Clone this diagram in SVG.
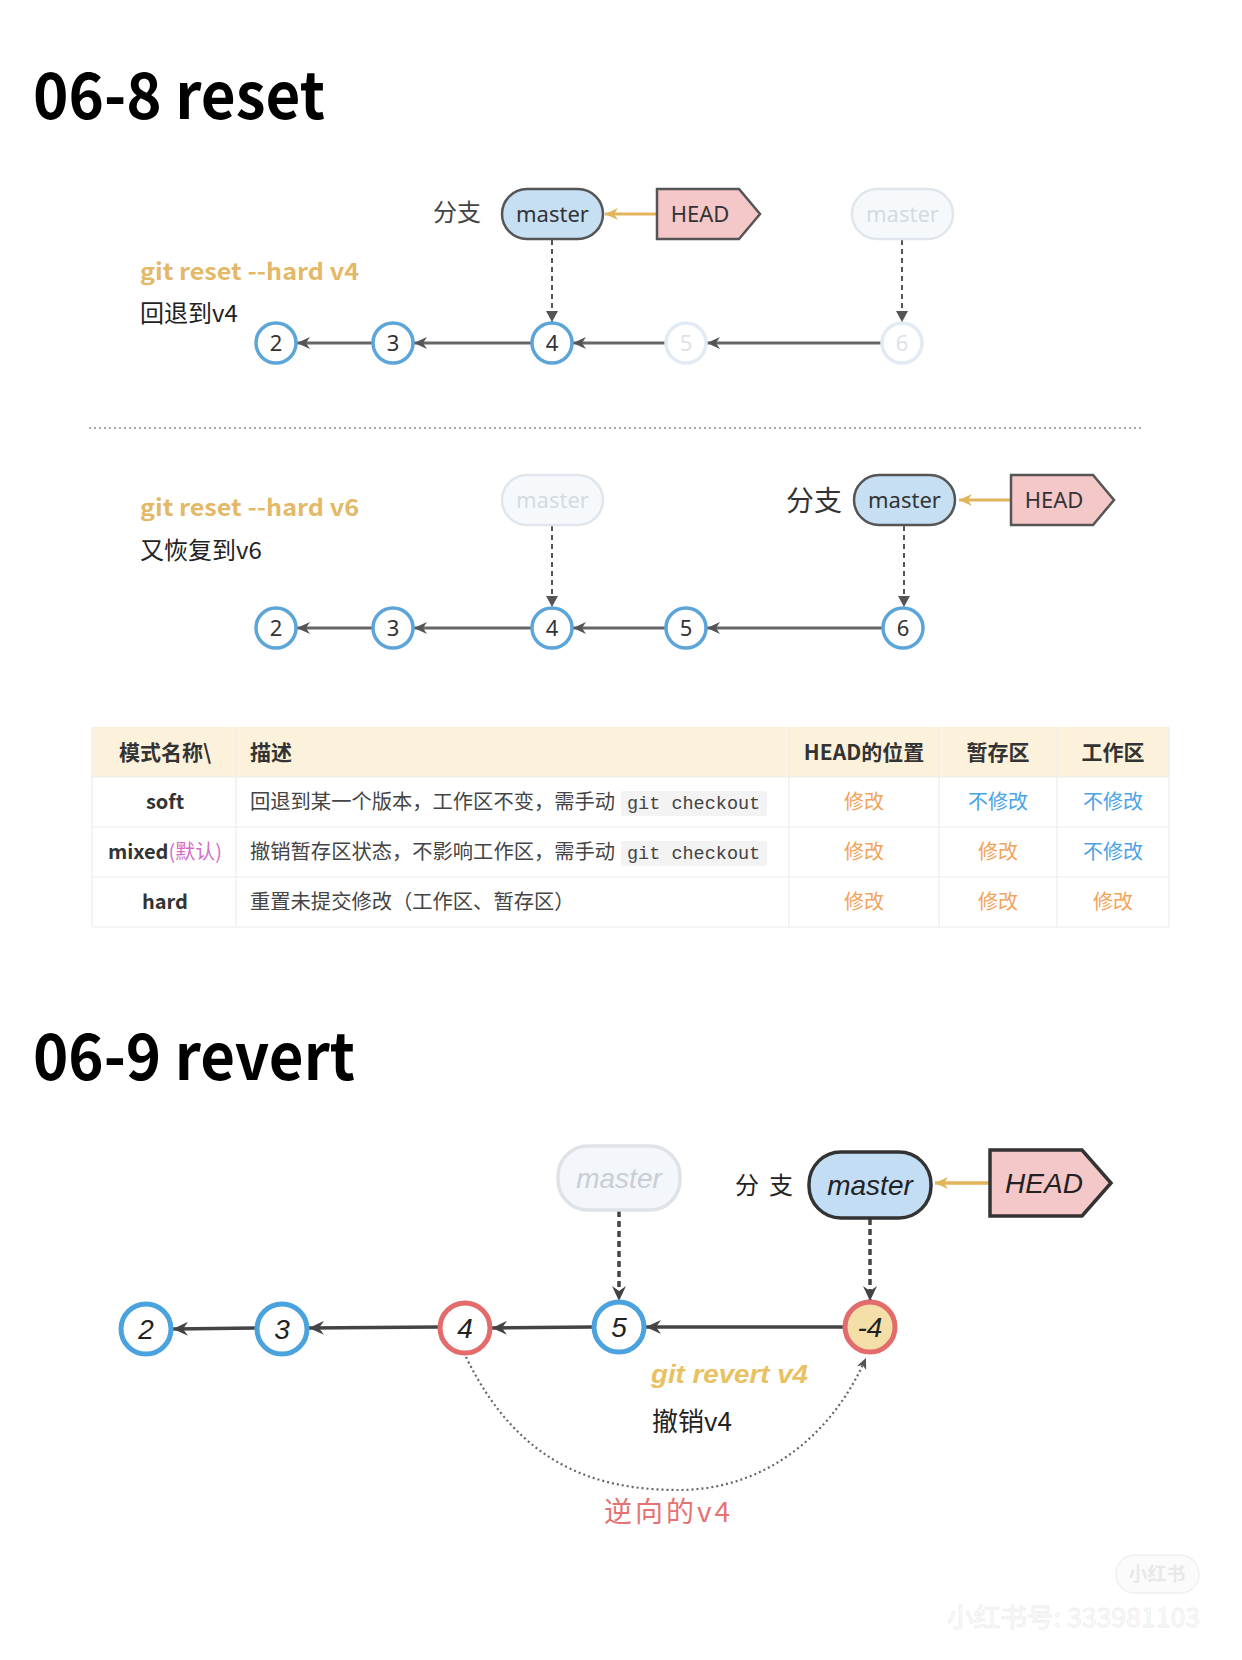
<svg xmlns="http://www.w3.org/2000/svg" width="1242" height="1660" viewBox="0 0 1242 1660">
<style>
.title{font-family:"Noto Sans CJK SC","Noto Sans",sans-serif;font-weight:700;font-size:64px;fill:#000}
.cjk{font-family:"Noto Sans CJK SC","Noto Sans",sans-serif}
.cmd{font-family:"Noto Sans CJK SC","Noto Sans",sans-serif;font-weight:700;font-size:23px;fill:#e3b867}
.note{font-family:"Noto Sans CJK SC",sans-serif;font-size:24px;fill:#222}
.pill{fill:#c6dff3;stroke:#555;stroke-width:2.5}
.pillF{fill:#f6f9fc;stroke:#e1e6ec;stroke-width:2.5}
.head{fill:#f4c7c9;stroke:#555;stroke-width:2.5}
.nlab{font-family:"Noto Sans",sans-serif;font-size:22px;fill:#333;text-anchor:middle}
.nlabF{font-family:"Noto Sans",sans-serif;font-size:22px;fill:#d4dae2;text-anchor:middle}
.c{fill:#fff;stroke:#5ba5d9;stroke-width:3.5}
.cF{fill:#fff;stroke:#e2ebf4;stroke-width:3.5}
.clab{font-family:"Noto Sans",sans-serif;font-size:22px;fill:#333;text-anchor:middle}
.clabF{font-family:"Noto Sans",sans-serif;font-size:22px;fill:#dde2e8;text-anchor:middle}
.edge{stroke:#666;stroke-width:3;fill:none}
.dash{stroke:#555;stroke-width:2;stroke-dasharray:5 4;fill:none}
.yel{stroke:#e2b55c;stroke-width:3;fill:none}
.th{font-family:"Noto Sans CJK SC",sans-serif;font-weight:700;font-size:21px;fill:#333}
.td{font-family:"Noto Sans CJK SC",sans-serif;font-size:20.3px;fill:#444}
.tb{font-family:"Noto Sans CJK SC",sans-serif;font-weight:700;font-size:20px;fill:#333;text-anchor:middle}
.code{font-family:"Liberation Mono",monospace;font-size:18.5px;fill:#444}
.codebg{fill:#f3f3f3}
.mod{font-family:"Noto Sans CJK SC",sans-serif;font-size:20px;fill:#f2a35a;text-anchor:middle}
.nomod{font-family:"Noto Sans CJK SC",sans-serif;font-size:20px;fill:#4aa3e6;text-anchor:middle}
.grid{stroke:#ececec;stroke-width:1.2}
.sk{font-family:"Liberation Sans",sans-serif;font-style:italic;font-size:28px;fill:#222;text-anchor:middle}
.skF{font-family:"Liberation Sans",sans-serif;font-style:italic;font-size:28px;fill:#c9ced6;text-anchor:middle}
.rc{fill:#fff;stroke-width:5}
.redge{stroke:#444;stroke-width:3.5;fill:none}
.rdash{stroke:#444;stroke-width:3.5;stroke-dasharray:6 4;fill:none}
</style>
<defs>
<marker id="aG" markerUnits="userSpaceOnUse" markerWidth="14" markerHeight="12" refX="13" refY="6" orient="auto">
<path d="M0,0 L13,6 L0,12 L4,6 z" fill="#555"/>
</marker>
<marker id="aD" markerUnits="userSpaceOnUse" markerWidth="12" markerHeight="12" refX="11" refY="6" orient="auto">
<path d="M0,0 L11,6 L0,12 z" fill="#555"/>
</marker>
<marker id="aY" markerUnits="userSpaceOnUse" markerWidth="14" markerHeight="12" refX="13" refY="6" orient="auto">
<path d="M0,0 L13,6 L0,12 L4,6 z" fill="#e2b55c"/>
</marker>
<marker id="aR" markerUnits="userSpaceOnUse" markerWidth="16" markerHeight="14" refX="15" refY="7" orient="auto">
<path d="M0,0 L15,7 L0,14 L5,7 z" fill="#444"/>
</marker>
<marker id="aC" markerUnits="userSpaceOnUse" markerWidth="12" markerHeight="10" refX="11" refY="5" orient="auto">
<path d="M0,0 L11,5 L0,10 L3,5 z" fill="#555"/>
</marker>
</defs>
<rect width="1242" height="1660" fill="#fff"/>

<text class="title" x="33" y="119" textLength="292" lengthAdjust="spacingAndGlyphs">06-8 reset</text>

<!-- Top reset diagram -->
<g id="top-labels">
<text class="cjk" x="433" y="221" font-size="24" fill="#444">分支</text>
<text class="cmd" x="140" y="280" textLength="219" lengthAdjust="spacingAndGlyphs">git reset --hard v4</text>
<text class="note" x="140" y="322">回退到v4</text>
</g>
<g id="connectors-top">
<line class="yel" x1="657" y1="214" x2="605" y2="214" marker-end="url(#aY)"/>
<line class="dash" x1="552" y1="240" x2="552" y2="322" marker-end="url(#aD)"/>
<line class="dash" x1="902" y1="240" x2="902" y2="322" marker-end="url(#aD)"/>
<line class="edge" x1="372" y1="343" x2="297" y2="343" marker-end="url(#aG)"/>
<line class="edge" x1="532" y1="343" x2="414" y2="343" marker-end="url(#aG)"/>
<line class="edge" x1="665" y1="343" x2="573" y2="343" marker-end="url(#aG)"/>
<line class="edge" x1="882" y1="343" x2="707" y2="343" marker-end="url(#aG)"/>
</g>
<g id="t-master">
<rect class="pill" x="502" y="189" width="101" height="50" rx="25"/>
<text class="nlab" x="552.5" y="222">master</text>
</g>
<g id="t-head">
<path class="head" d="M657,189 H739 L760,214 L739,239 H657 Z"/>
<text class="nlab" x="700" y="222" font-size="23">HEAD</text>
</g>
<g id="t-master-old">
<rect class="pillF" x="852" y="189" width="101" height="50" rx="25"/>
<text class="nlabF" x="902.5" y="222">master</text>
</g>
<g id="t-c2"><circle class="c" cx="276" cy="343" r="20"/><text class="clab" x="276" y="351">2</text></g>
<g id="t-c3"><circle class="c" cx="393" cy="343" r="20"/><text class="clab" x="393" y="351">3</text></g>
<g id="t-c4"><circle class="c" cx="552" cy="343" r="20"/><text class="clab" x="552" y="351">4</text></g>
<g id="t-c5"><circle class="cF" cx="686" cy="343" r="20"/><text class="clabF" x="686" y="351">5</text></g>
<g id="t-c6"><circle class="cF" cx="902" cy="343" r="20"/><text class="clabF" x="902" y="351">6</text></g>

<line x1="89" y1="428" x2="1141" y2="428" stroke="#aaa" stroke-width="2" stroke-dasharray="2 3"/>

<!-- Second reset diagram -->
<g id="mid-labels">
<text class="cmd" x="140" y="516" textLength="219" lengthAdjust="spacingAndGlyphs">git reset --hard v6</text>
<text class="note" x="140" y="559">又恢复到v6</text>
<text class="cjk" x="786" y="511" font-size="28" fill="#333">分支</text>
</g>
<g id="connectors-mid">
<line class="yel" x1="1011" y1="500" x2="959" y2="500" marker-end="url(#aY)"/>
<line class="dash" x1="552" y1="526" x2="552" y2="607" marker-end="url(#aD)"/>
<line class="dash" x1="904" y1="526" x2="904" y2="607" marker-end="url(#aD)"/>
<line class="edge" x1="372" y1="628" x2="297" y2="628" marker-end="url(#aG)"/>
<line class="edge" x1="532" y1="628" x2="414" y2="628" marker-end="url(#aG)"/>
<line class="edge" x1="665" y1="628" x2="573" y2="628" marker-end="url(#aG)"/>
<line class="edge" x1="882" y1="628" x2="707" y2="628" marker-end="url(#aG)"/>
</g>
<g id="m-master-old">
<rect class="pillF" x="502" y="475" width="101" height="50" rx="25"/>
<text class="nlabF" x="552.5" y="508">master</text>
</g>
<g id="m-master">
<rect class="pill" x="854" y="475" width="101" height="50" rx="25"/>
<text class="nlab" x="904.5" y="508">master</text>
</g>
<g id="m-head">
<path class="head" d="M1011,475 H1093 L1114,500 L1093,525 H1011 Z"/>
<text class="nlab" x="1054" y="508" font-size="23">HEAD</text>
</g>
<g id="m-c2"><circle class="c" cx="276" cy="628" r="20"/><text class="clab" x="276" y="636">2</text></g>
<g id="m-c3"><circle class="c" cx="393" cy="628" r="20"/><text class="clab" x="393" y="636">3</text></g>
<g id="m-c4"><circle class="c" cx="552" cy="628" r="20"/><text class="clab" x="552" y="636">4</text></g>
<g id="m-c5"><circle class="c" cx="686" cy="628" r="20"/><text class="clab" x="686" y="636">5</text></g>
<g id="m-c6"><circle class="c" cx="903" cy="628" r="20"/><text class="clab" x="903" y="636">6</text></g>

<!-- Table -->
<g id="table">
<rect x="92" y="727" width="1077" height="50" fill="#fcf2dc"/>
<line class="grid" x1="92" y1="777" x2="1169" y2="777"/>
<line class="grid" x1="92" y1="827" x2="1169" y2="827"/>
<line class="grid" x1="92" y1="877" x2="1169" y2="877"/>
<line class="grid" x1="92" y1="927" x2="1169" y2="927"/>
<line class="grid" x1="92" y1="727" x2="92" y2="927"/>
<line class="grid" x1="236" y1="727" x2="236" y2="927"/>
<line class="grid" x1="789" y1="727" x2="789" y2="927"/>
<line class="grid" x1="939" y1="727" x2="939" y2="927"/>
<line class="grid" x1="1057" y1="727" x2="1057" y2="927"/>
<line class="grid" x1="1169" y1="727" x2="1169" y2="927"/>
<text class="th" x="119" y="760">模式名称\</text>
<text class="th" x="250" y="760">描述</text>
<text class="th" x="864" y="760" text-anchor="middle">HEAD的位置</text>
<text class="th" x="998" y="760" text-anchor="middle">暂存区</text>
<text class="th" x="1113" y="760" text-anchor="middle">工作区</text>

<text class="tb" x="165" y="809">soft</text>
<text class="td" x="250" y="809">回退到某一个版本，工作区不变，需手动</text>
<rect class="codebg" x="621" y="791" width="146" height="25" rx="2"/>
<text class="code" x="627" y="809">git checkout</text>
<text class="mod" x="864" y="809">修改</text>
<text class="nomod" x="998" y="809">不修改</text>
<text class="nomod" x="1113" y="809">不修改</text>

<text class="tb" x="165" y="859"><tspan>mixed</tspan><tspan font-weight="400" fill="#d46fc4">(默认)</tspan></text>
<text class="td" x="250" y="859">撤销暂存区状态，不影响工作区，需手动</text>
<rect class="codebg" x="621" y="841" width="146" height="25" rx="2"/>
<text class="code" x="627" y="859">git checkout</text>
<text class="mod" x="864" y="859">修改</text>
<text class="mod" x="998" y="859">修改</text>
<text class="nomod" x="1113" y="859">不修改</text>

<text class="tb" x="165" y="909">hard</text>
<text class="td" x="250" y="909">重置未提交修改（工作区、暂存区）</text>
<text class="mod" x="864" y="909">修改</text>
<text class="mod" x="998" y="909">修改</text>
<text class="mod" x="1113" y="909">修改</text>
</g>

<text class="title" x="33" y="1080" textLength="322" lengthAdjust="spacingAndGlyphs">06-9 revert</text>

<!-- Revert diagram -->
<g id="rev-labels">
<text class="cjk" x="735" y="1194" font-size="24" fill="#222" letter-spacing="10">分支</text>
<text x="651" y="1383" font-family="Liberation Sans,sans-serif" font-style="italic" font-weight="700" font-size="26" fill="#e8c262" textLength="157" lengthAdjust="spacingAndGlyphs">git revert v4</text>
<text class="cjk" x="652" y="1431" font-size="26" fill="#222">撤销v4</text>
<text class="cjk" x="604" y="1522" font-size="28" fill="#e57373" letter-spacing="3">逆向的v4</text>
</g>
<g id="connectors-rev">
<line stroke="#e2b55c" stroke-width="3.5" x1="990" y1="1183" x2="935" y2="1183" marker-end="url(#aY)"/>
<line class="rdash" x1="619" y1="1211" x2="619" y2="1301" marker-end="url(#aR)"/>
<line class="rdash" x1="870" y1="1219" x2="870" y2="1301" marker-end="url(#aR)"/>
<line class="redge" x1="256" y1="1328" x2="173" y2="1329" marker-end="url(#aR)"/>
<line class="redge" x1="439" y1="1327" x2="309" y2="1328" marker-end="url(#aR)"/>
<line class="redge" x1="593" y1="1327" x2="492" y2="1328" marker-end="url(#aR)"/>
<line class="redge" x1="844" y1="1327" x2="646" y2="1327" marker-end="url(#aR)"/>
<path d="M466,1357 C520,1468 600,1490 679,1490 C760,1490 830,1440 866,1358" stroke="#666" stroke-width="2.2" stroke-dasharray="2 3" fill="none" marker-end="url(#aC)"/>
</g>
<g id="r-master-old">
<rect x="558" y="1146" width="122" height="64" rx="30" fill="#f3f6fa" stroke="#dfe3e8" stroke-width="3.5"/>
<text class="skF" x="619" y="1188">master</text>
</g>
<g id="r-master">
<rect x="809" y="1152" width="122" height="66" rx="32" fill="#c3def4" stroke="#333" stroke-width="3.5"/>
<text class="sk" x="870" y="1195">master</text>
</g>
<g id="r-head">
<path d="M990,1150 H1082 L1111,1183 L1082,1216 H990 Z" fill="#f4c7c9" stroke="#333" stroke-width="3.5"/>
<text class="sk" x="1044" y="1193">HEAD</text>
</g>
<g id="r-c2"><circle class="rc" cx="146" cy="1329" r="25" stroke="#4aa2de"/><text class="sk" x="146" y="1339">2</text></g>
<g id="r-c3"><circle class="rc" cx="282" cy="1329" r="25" stroke="#4aa2de"/><text class="sk" x="282" y="1339">3</text></g>
<g id="r-c4"><circle class="rc" cx="465" cy="1328" r="25" stroke="#e36b6b"/><text class="sk" x="465" y="1338">4</text></g>
<g id="r-c5"><circle class="rc" cx="619" cy="1327" r="25" stroke="#4aa2de"/><text class="sk" x="619" y="1337">5</text></g>
<g id="r-cn4"><circle cx="870" cy="1327" r="25" fill="#f5dfa8" stroke="#e36b6b" stroke-width="5"/><text class="sk" x="870" y="1337">-4</text></g>

<!-- watermark -->
<g id="watermark">
<rect x="1116" y="1555" width="83" height="38" rx="19" fill="#fbfbfb" stroke="#f0f0f0" stroke-width="1.5"/>
<text x="1157" y="1581" text-anchor="middle" font-family="Noto Sans CJK SC,sans-serif" font-weight="700" font-size="19" fill="#e9e9e9">小红书</text>
<text x="947" y="1627" font-family="Noto Sans CJK SC,sans-serif" font-size="26" fill="#fcfcfc" stroke="#ededed" stroke-width="0.8" textLength="253" lengthAdjust="spacingAndGlyphs">小红书号: 333981103</text>
</g>
</svg>
